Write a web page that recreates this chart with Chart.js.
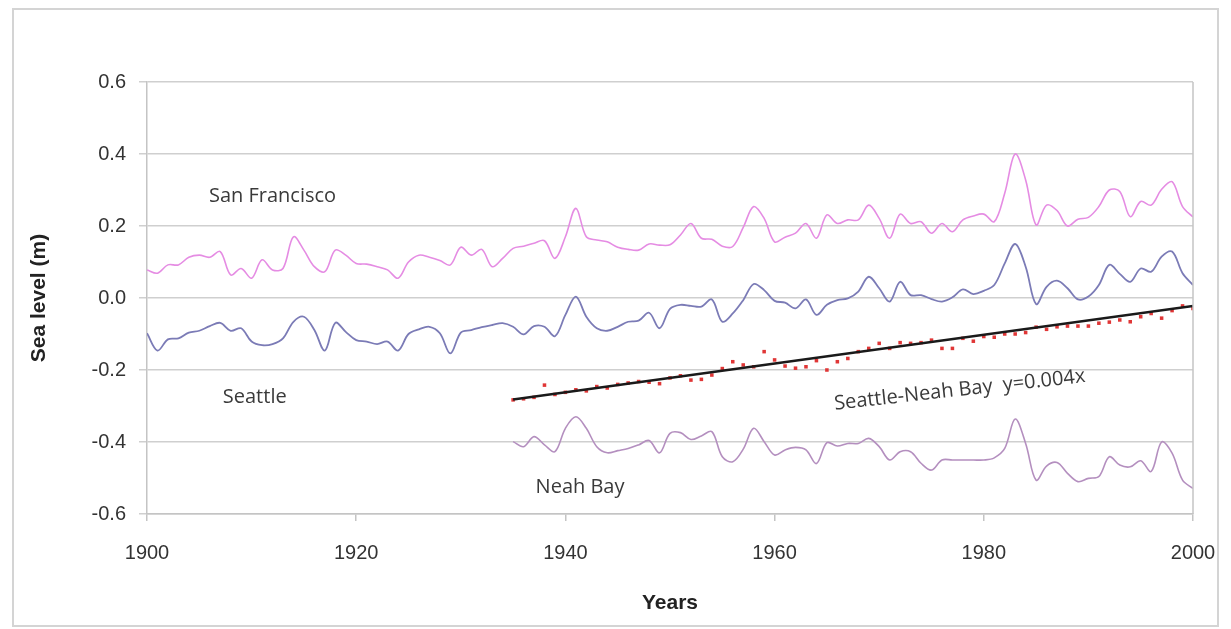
<!DOCTYPE html>
<html lang="en">
  <head>
    <meta charset="UTF-8" />
    <title>Sea level</title>
    <script src="https://cdn.jsdelivr.net/npm/chart.js"></script>
    <style>
      body {
        margin: 0;
        background: #ffffff;
      }

      #wrap {
        width: 1231px;
        height: 629px;
      }
    </style>
  </head>

  <body>
    <div id="wrap"><canvas id="seaChart" width="1231" height="629"></canvas></div>

    <script>
      // first year of each record
      const longStartYear = 1900;
      const neahStartYear = 1935;

      // annual mean sea level (m), 1900-2000
      const sanFrancisco = [
        0.078, 0.069, 0.092, 0.092, 0.113, 0.119, 0.113, 0.129, 0.064, 0.082,
        0.055, 0.106, 0.078, 0.082, 0.170, 0.133, 0.087, 0.073, 0.133, 0.119,
        0.096, 0.094, 0.087, 0.078, 0.055, 0.100, 0.119, 0.113, 0.104, 0.092,
        0.141, 0.119, 0.135, 0.087, 0.110, 0.138, 0.144, 0.152, 0.159, 0.110,
        0.170, 0.249, 0.170, 0.161, 0.156, 0.141, 0.135, 0.133, 0.150, 0.147,
        0.148, 0.175, 0.207, 0.166, 0.163, 0.144, 0.143, 0.196, 0.254, 0.221,
        0.156, 0.169, 0.180, 0.207, 0.166, 0.231, 0.207, 0.217, 0.217, 0.258,
        0.221, 0.166, 0.233, 0.207, 0.212, 0.180, 0.207, 0.184, 0.217, 0.228,
        0.233, 0.212, 0.291, 0.400, 0.328, 0.203, 0.258, 0.243, 0.200, 0.219,
        0.224, 0.254, 0.300, 0.296, 0.226, 0.268, 0.258, 0.302, 0.323, 0.254,
        0.225
      ];

      const seattle = [
        -0.098, -0.146, -0.115, -0.112, -0.096, -0.091, -0.078, -0.069, -0.091, -0.084,
        -0.121, -0.131, -0.128, -0.112, -0.066, -0.052, -0.089, -0.146, -0.069, -0.094,
        -0.117, -0.121, -0.128, -0.121, -0.146, -0.100, -0.087, -0.080, -0.098, -0.154,
        -0.096, -0.089, -0.081, -0.075, -0.070, -0.080, -0.101, -0.078, -0.080, -0.106,
        -0.047, 0.004, -0.052, -0.084, -0.091, -0.080, -0.066, -0.063, -0.041, -0.084,
        -0.030, -0.019, -0.022, -0.024, -0.004, -0.066, -0.043, -0.006, 0.039, 0.022,
        -0.008, -0.013, -0.029, -0.004, -0.047, -0.019, -0.006, -0.001, 0.018, 0.059,
        0.027, -0.010, 0.045, 0.008, 0.008, -0.003, -0.010, 0.002, 0.024, 0.011,
        0.020, 0.036, 0.096, 0.150, 0.087, -0.017, 0.031, 0.048, 0.027, -0.004,
        0.004, 0.036, 0.092, 0.067, 0.045, 0.082, 0.073, 0.115, 0.129, 0.069,
        0.036
      ];

      // 1935-2000
      const neahBay = [
        -0.399, -0.413, -0.385, -0.408, -0.427,
        -0.362, -0.330, -0.362, -0.413, -0.430, -0.424, -0.418, -0.408, -0.396, -0.430,
        -0.376, -0.374, -0.393, -0.383, -0.371, -0.441, -0.455, -0.420, -0.362, -0.399,
        -0.436, -0.422, -0.415, -0.422, -0.460, -0.402, -0.411, -0.404, -0.404, -0.390,
        -0.413, -0.450, -0.427, -0.427, -0.459, -0.478, -0.450, -0.450, -0.450, -0.450,
        -0.450, -0.444, -0.418, -0.336, -0.404, -0.506, -0.467, -0.457, -0.487, -0.510,
        -0.501, -0.496, -0.441, -0.464, -0.469, -0.452, -0.482, -0.400, -0.431, -0.506,
        -0.529
      ];

      const seattleNeah = [
        -0.283, -0.280, -0.276, -0.242, -0.268,
        -0.262, -0.255, -0.258, -0.246, -0.250, -0.240, -0.236, -0.232, -0.234, -0.238,
        -0.222, -0.216, -0.228, -0.226, -0.214, -0.196, -0.177, -0.186, -0.191, -0.149,
        -0.172, -0.189, -0.195, -0.191, -0.174, -0.200, -0.177, -0.168, -0.149, -0.140,
        -0.126, -0.140, -0.124, -0.126, -0.124, -0.117, -0.140, -0.140, -0.112, -0.120,
        -0.107, -0.109, -0.100, -0.100, -0.096, -0.081, -0.087, -0.080, -0.078, -0.078,
        -0.078, -0.070, -0.067, -0.061, -0.066, -0.052, -0.043, -0.056, -0.035, -0.022,
        -0.029
      ];

      // fitted line y = 0.004x, end points
      const trendYears = [1935, 2000];
      const trendValues = [-0.282, -0.022];

      const xTicks = [1900, 1920, 1940, 1960, 1980, 2000];
      const yTicks = [-0.6, -0.4, -0.2, 0.0, 0.2, 0.4, 0.6];

      const toPoints = (start, values) => values.map((v, i) => ({ x: start + i, y: v }));

      const axisFont = { family: "'Liberation Sans', Arial, sans-serif", size: 20 };
      const labelFont = "20px 'Open Sans', sans-serif";

      // text labels placed in data units
      const seriesLabels = [
        { text: 'San Francisco', x: 1912.0, y: 0.283, angle: 0 },
        { text: 'Seattle', x: 1910.3, y: -0.275, angle: 0 },
        { text: 'Neah Bay', x: 1941.4, y: -0.525, angle: 0 },
        { text: 'Seattle-Neah Bay  y=0.004x', x: 1977.7, y: -0.256, angle: -6.3 }
      ];

      const decorPlugin = {
        id: 'decor',
        beforeDraw(chart) {
          const { ctx } = chart;
          ctx.save();
          ctx.strokeStyle = '#d4d4d4';
          ctx.lineWidth = 2;
          ctx.strokeRect(13, 9, 1205, 617);
          ctx.restore();
        },
        afterDatasetsDraw(chart) {
          const { ctx, chartArea, scales } = chart;
          ctx.save();
          ctx.strokeStyle = '#c4c4c4';
          ctx.lineWidth = 1.5;
          ctx.beginPath();
          ctx.moveTo(chartArea.right, chartArea.top);
          ctx.lineTo(chartArea.right, chartArea.bottom);
          ctx.stroke();

          ctx.fillStyle = '#3a3a3a';
          ctx.font = labelFont;
          ctx.textAlign = 'center';
          ctx.textBaseline = 'middle';
          seriesLabels.forEach(l => {
            const px = scales.x.getPixelForValue(l.x);
            const py = scales.y.getPixelForValue(l.y);
            ctx.save();
            ctx.translate(px, py);
            ctx.rotate(l.angle * Math.PI / 180);
            ctx.fillText(l.text, 0, 0);
            ctx.restore();
          });
          ctx.restore();
        }
      };

      new Chart(document.getElementById('seaChart'), {
        type: 'line',
        data: {
          datasets: [
            {
              label: 'San Francisco',
              data: toPoints(longStartYear, sanFrancisco),
              borderColor: '#e58ce3',
              borderWidth: 1.6,
              pointRadius: 0,
              tension: 0.35
            },
            {
              label: 'Seattle',
              data: toPoints(longStartYear, seattle),
              borderColor: '#7b7bb6',
              borderWidth: 1.8,
              pointRadius: 0,
              tension: 0.35
            },
            {
              label: 'Neah Bay',
              data: toPoints(neahStartYear, neahBay),
              borderColor: '#b48fbf',
              borderWidth: 1.6,
              pointRadius: 0,
              tension: 0.35
            },
            {
              label: 'Trend',
              data: trendYears.map((y, i) => ({ x: y, y: trendValues[i] })),
              borderColor: '#1a1a1a',
              borderWidth: 2.5,
              pointRadius: 0,
              tension: 0
            },
            {
              label: 'Seattle-Neah Bay',
              data: toPoints(neahStartYear, seattleNeah),
              showLine: false,
              pointStyle: 'rect',
              pointRadius: 2.5,
              pointBackgroundColor: '#e03636',
              pointBorderColor: '#e03636',
              pointBorderWidth: 0
            }
          ]
        },
        options: {
          responsive: false,
          animation: false,
          layout: { padding: { left: 20, right: 38, top: 82, bottom: 4 } },
          plugins: {
            legend: { display: false },
            tooltip: { enabled: false }
          },
          scales: {
            x: {
              type: 'linear',
              min: 1900,
              max: 2000,
              afterFit: s => {
                s.height = 111;
                s.paddingLeft = 0;
                s.paddingRight = 0;
              },
              afterBuildTicks: s => { s.ticks = xTicks.map(v => ({ value: v })); },
              ticks: {
                color: '#333',
                font: axisFont,
                padding: 20,
                maxRotation: 0,
                callback: v => String(v)
              },
              grid: {
                drawOnChartArea: false,
                drawTicks: true,
                tickLength: 7,
                color: '#c4c4c4',
                lineWidth: 1.5
              },
              border: { color: '#c4c4c4', width: 1.5 },
              title: {
                display: true,
                text: 'Years',
                color: '#222',
                font: { family: "'Liberation Sans', Arial, sans-serif", size: 21, weight: 'bold' },
                padding: { top: 0, bottom: 9 }
              }
            },
            y: {
              min: -0.6,
              max: 0.6,
              afterFit: s => {
                s.width = 127;
                s.paddingTop = 0;
                s.paddingBottom = 0;
              },
              afterBuildTicks: s => { s.ticks = yTicks.map(v => ({ value: v })); },
              ticks: {
                color: '#333',
                font: axisFont,
                padding: 13,
                callback: v => v.toFixed(1)
              },
              grid: {
                color: '#cfcfcf',
                lineWidth: 1.5,
                tickLength: 8
              },
              border: { color: '#c4c4c4', width: 1.5 },
              title: {
                display: true,
                text: 'Sea level (m)',
                color: '#222',
                font: { family: "'Liberation Sans', Arial, sans-serif", size: 21, weight: 'bold' },
                padding: { top: 7, bottom: 0 }
              }
            }
          }
        },
        plugins: [decorPlugin]
      });
    </script>
  </body>
</html>
